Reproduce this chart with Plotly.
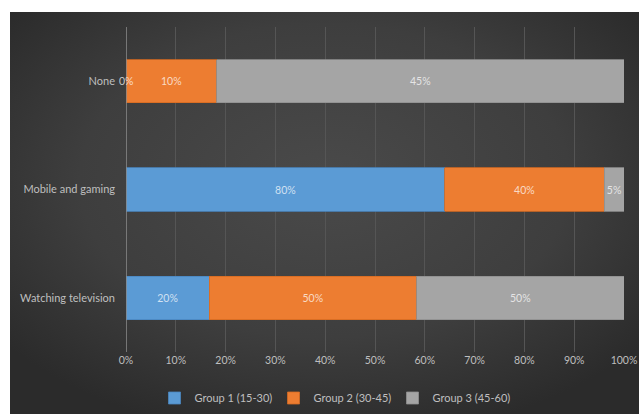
import base64
import plotly.graph_objects as go

categories = ["Watching television", "Mobile and gaming", "None"]
group1 = [20, 80, 0]
group2 = [50, 40, 10]
group3 = [50, 5, 45]
series_names = ["Group 1 (15-30)", "Group 2 (30-45)", "Group 3 (45-60)"]
x_ticks = list(range(0, 101, 10))
x_tick_labels = [f"{t}%" for t in x_ticks]

colors = ["#5B9BD5", "#ED7D31", "#A5A5A5"]
edges = ["#4a86bf", "#d46a22", "#8f8f8f"]
FONT = "Lato, 'Open Sans', sans-serif"
TXT = "rgba(255,255,255,0.72)"

fig = go.Figure()
all_series = [group1, group2, group3]
for name, vals, col, edge in zip(series_names, all_series, colors, edges):
    fig.add_trace(go.Bar(
        y=categories, x=vals, name=name, orientation="h",
        marker=dict(color=col, line=dict(color=edge, width=0.8)),
        text=[f"{v}%" if v else "" for v in vals],
        textposition="inside", insidetextanchor="middle", textangle=0,
        constraintext="none", cliponaxis=False,
        textfont=dict(family=FONT, size=10.5, color=TXT),
        hoverinfo="skip",
    ))

# labels for zero-width segments (cannot be drawn inside the bar)
for i, cat in enumerate(categories):
    totals = sum(s[i] for s in all_series)
    cum = 0
    for s in all_series:
        if s[i] == 0:
            fig.add_annotation(x=cum / totals * 100, y=cat, text=f"{s[i]}%",
                               showarrow=False, xanchor="center",
                               font=dict(family=FONT, size=10.5, color=TXT))
        cum += s[i]

# background: dark radial gradient with white frame top/left
svg = (
    '<svg xmlns="http://www.w3.org/2000/svg" width="629" height="402" viewBox="0 0 629 402" preserveAspectRatio="none">'
    '<defs><radialGradient id="g" cx="50%" cy="42%" r="65%">'
    '<stop offset="0%" stop-color="#4a4a4a"/>'
    '<stop offset="60%" stop-color="#3e3e3e"/>'
    '<stop offset="100%" stop-color="#2b2b2b"/>'
    '</radialGradient></defs>'
    '<rect width="629" height="402" fill="url(#g)"/></svg>'
)
src = "data:image/svg+xml;base64," + base64.b64encode(svg.encode()).decode()

L, R, T, B = 126, 15, 27, 62
W, H = 639, 414
pw, ph = W - L - R, H - T - B
def px(xpix):
    return (xpix - L) / pw
def py(ypix):
    return (H - B - ypix) / ph

fig.add_layout_image(dict(source=src, xref="paper", yref="paper",
                          x=px(10), y=py(12), sizex=px(639) - px(10), sizey=py(12) - py(414),
                          sizing="stretch", layer="below", xanchor="left", yanchor="top"))

fig.update_layout(
    barmode="stack", barnorm="percent", bargap=0.6,
    width=W, height=H,
    margin=dict(l=L, r=R, t=T, b=B, pad=0, autoexpand=False),
    paper_bgcolor="white", plot_bgcolor="rgba(0,0,0,0)",
    font=dict(family=FONT, size=11, color="#bfbfbf"),
    showlegend=True,
    legend=dict(orientation="h", x=px(333), xanchor="center", y=py(398), yanchor="middle",
                font=dict(family=FONT, size=11, color="#bfbfbf"),
                bgcolor="rgba(0,0,0,0)", itemwidth=30, entrywidth=74, entrywidthmode="pixels",
                traceorder="normal"),
    xaxis=dict(range=[0, 100], tickvals=x_ticks, ticktext=x_tick_labels, automargin=False,
               showgrid=True, gridcolor="#555555", gridwidth=1, zeroline=False,
               showline=False, ticks="", tickfont=dict(family=FONT, size=10.5, color="#bfbfbf"),
               fixedrange=True),
    yaxis=dict(categoryorder="array", categoryarray=categories, automargin=False,
               showgrid=False, zeroline=False, showline=False, ticks="",
               ticklabelstandoff=10, fixedrange=True,
               tickfont=dict(family=FONT, size=11, color="#bfbfbf")),
    shapes=[dict(type="line", xref="x", yref="paper", x0=0, x1=0, y0=0, y1=1,
                 line=dict(color="#8c8c8c", width=1.5), layer="above")],
)

fig.write_html("out.html", post_script="document.body.style.margin='0';",
               config={"displayModeBar": False})
